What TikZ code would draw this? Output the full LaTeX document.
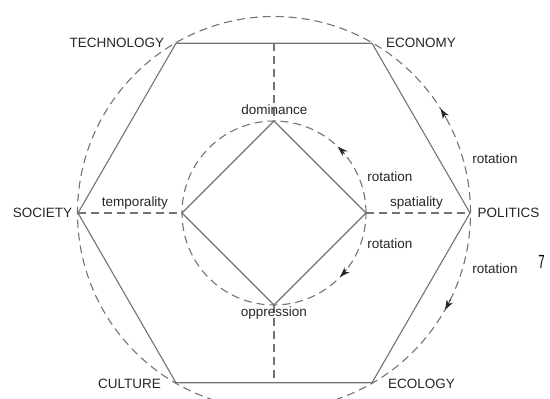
\documentclass[tikz,border=0pt]{standalone}
\usepackage{fontspec}
\setmainfont{Liberation Sans}
\usetikzlibrary{arrows.meta}
\begin{document}
\begin{tikzpicture}[x=1pt,y=1pt,
  solidline/.style={draw=black!55, line width=1.1pt},
  dashline/.style={draw=black!55, line width=1.1pt, dash pattern=on 8pt off 5pt},
  lbl/.style={text=black!85, font=\fontsize{13.5}{16}\selectfont, inner sep=0pt},
  tip/.style={draw=black!85, line width=0.8pt, -{Stealth[length=10pt,width=7pt]}}]
\useasboundingbox (-274,-186) rectangle (276,213);
% outer and inner dashed circles
\draw[dashline] (0,0) circle (196.5);
\draw[dashline] (0,0) circle (92);
% hexagon vertices
\coordinate (ECO) at (60:196);
\coordinate (TEC) at (120:196);
\coordinate (SOC) at (180:196);
\coordinate (CUL) at (240:196);
\coordinate (ECL) at (300:196);
\coordinate (POL) at (0:196);
\coordinate (topmid) at (0,169.7);
\coordinate (botmid) at (0,-169.7);
% square vertices
\coordinate (D) at (90:92);
\coordinate (L) at (180:92);
\coordinate (O) at (270:92);
\coordinate (R) at (0:92);
\draw[solidline] (ECO) -- (TEC) -- (SOC) -- (CUL) -- (ECL) -- (POL) -- cycle;
\draw[solidline] (D) -- (L) -- (O) -- (R) -- cycle;
% dashed spokes
\draw[dashline] (topmid) -- (D);
\draw[dashline] (O) -- (botmid);
\draw[dashline] (SOC) -- (L);
\draw[dashline] (R) -- (POL);
% arrowheads on circles
\draw[tip] (40:92) arc (40:46:92);
\draw[tip] (-38:92) arc (-38:-44:92);
\draw[tip] (29:196.5) arc (29:32:196.5);
\draw[tip] (-26:196.5) arc (-26:-29.5:196.5);
% labels
\node[lbl] (ltec) at (-157,170) {TECHNOLOGY};
\node[lbl] (leco) at (147,170) {ECONOMY};
\node[lbl] (lsoc) at (-231.5,0) {SOCIETY};
\node[lbl] (lpol) at (234.5,0) {POLITICS};
\node[lbl] (lcul) at (-144.5,-171) {CULTURE};
\node[lbl] (lecl) at (147.5,-171) {ECOLOGY};
\node[lbl] (ldom) at (0.5,103) {dominance};
\node[lbl] (lopp) at (0,-100) {oppression};
\node[lbl] (ltem) at (-139,10) {temporality};
\node[lbl] (lspa) at (142.5,10) {spatiality};
\node[lbl] (rot1) at (116,36) {rotation};
\node[lbl] (rot2) at (116,-31) {rotation};
\node[lbl] (rot3) at (221,54) {rotation};
\node[lbl] (rot4) at (221,-56) {rotation};
\node[text=black, font=\fontsize{19}{21}\selectfont, inner sep=0pt, xscale=0.6] (seven) at (267.5,-48.5) {7};
\end{tikzpicture}
\end{document}
